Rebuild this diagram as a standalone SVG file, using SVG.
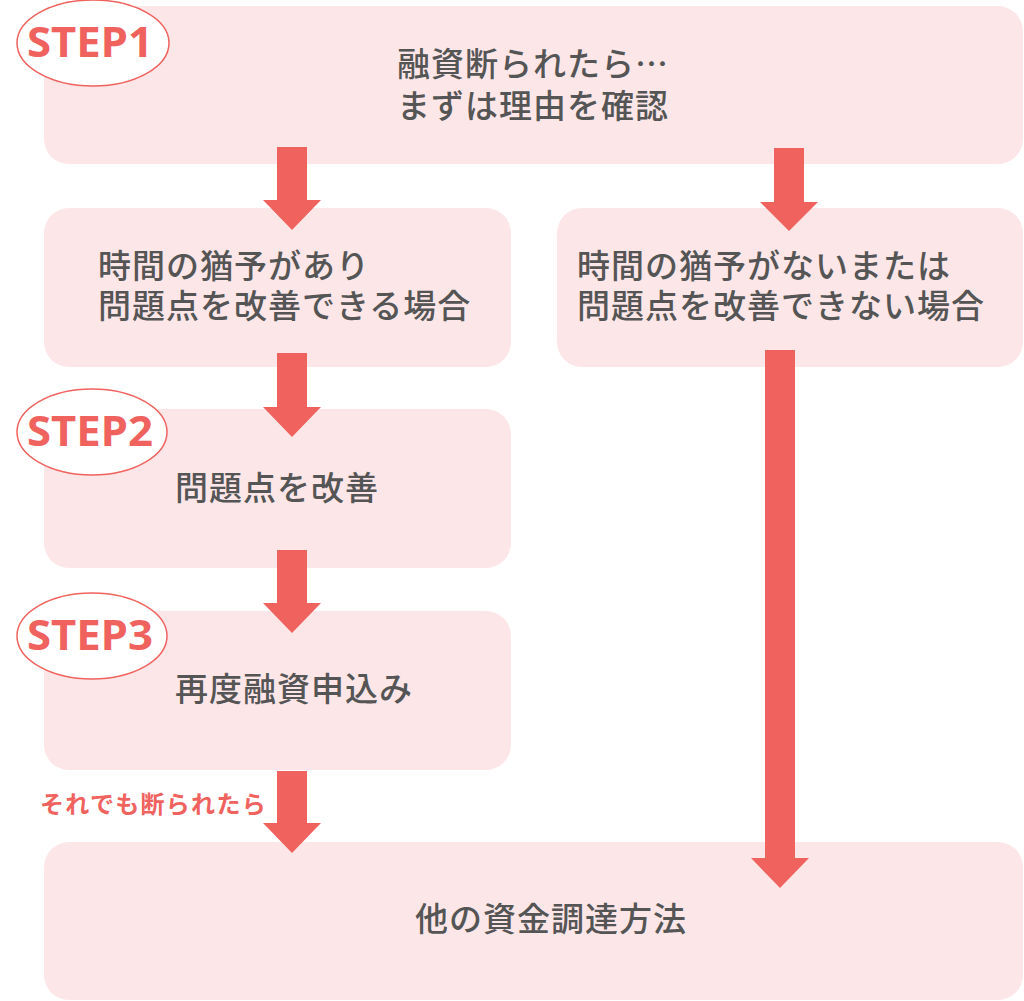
<svg xmlns="http://www.w3.org/2000/svg" width="1024" height="1001" viewBox="0 0 1024 1001">
<defs>
<style>
.box{fill:#fce6e8;}
.arr{fill:#f0625e;}
.t{font-family:"Noto Sans CJK JP","Noto Sans",sans-serif;font-size:33px;font-weight:500;fill:#555555;letter-spacing:1px;}
.step{font-family:"Noto Sans","Noto Sans CJK JP",sans-serif;font-size:42px;font-weight:700;fill:#f0625e;}
.ell{fill:#ffffff;stroke:#f0625e;stroke-width:1.5;}
.red{font-family:"Noto Sans CJK JP","Noto Sans",sans-serif;font-size:24px;font-weight:700;fill:#f0625e;letter-spacing:1.3px;}
</style>
</defs>
<rect width="1024" height="1001" fill="#ffffff"/>
<g id="node-step1">
<rect class="box" x="44" y="6" width="979" height="158" rx="25"/>
<text class="t" x="533" y="76" text-anchor="middle">融資断られたら…</text>
<text class="t" x="533" y="118" text-anchor="middle">まずは理由を確認</text>
</g>
<g id="node-yes">
<rect class="box" x="44" y="208" width="467" height="159" rx="25"/>
<text class="t" x="98" y="278">時間の猶予があり</text>
<text class="t" x="98" y="318">問題点を改善できる場合</text>
</g>
<g id="node-no">
<rect class="box" x="557" y="208" width="466" height="159" rx="25"/>
<text class="t" x="577" y="278">時間の猶予がないまたは</text>
<text class="t" x="577" y="318">問題点を改善できない場合</text>
</g>
<g id="node-step2">
<rect class="box" x="44" y="409" width="467" height="159" rx="25"/>
<text class="t" x="175" y="500">問題点を改善</text>
</g>
<g id="node-step3">
<rect class="box" x="44" y="611" width="467" height="159" rx="25"/>
<text class="t" x="175" y="701">再度融資申込み</text>
</g>
<g id="node-other">
<rect class="box" x="44" y="842" width="979" height="158" rx="25"/>
<text class="t" x="551" y="931" text-anchor="middle">他の資金調達方法</text>
</g>
<g id="connectors">
<polygon class="arr" points="277,147 307,147 307,200 321,200 292,230 263,200 277,200"/>
<polygon class="arr" points="774,148 804,148 804,202 818,202 789,231 760,202 774,202"/>
<polygon class="arr" points="277,353 307,353 307,407 321,407 292,437 263,407 277,407"/>
<polygon class="arr" points="277,550 307,550 307,603 321,603 292,633 263,603 277,603"/>
<polygon class="arr" points="277,771 307,771 307,823 321,823 292,853 263,823 277,823"/>
<polygon class="arr" points="765,350 795,350 795,858 809,858 780,888 751,858 765,858"/>
<text class="red" x="40" y="813">それでも断られたら</text>
</g>
<g id="label-step1">
<ellipse class="ell" cx="93" cy="43" rx="76" ry="43"/>
<text class="step" x="27" y="57" textLength="126" lengthAdjust="spacingAndGlyphs">STEP1</text>
</g>
<g id="label-step2">
<ellipse class="ell" cx="92" cy="432" rx="75" ry="43"/>
<text class="step" x="27" y="446" textLength="126" lengthAdjust="spacingAndGlyphs">STEP2</text>
</g>
<g id="label-step3">
<ellipse class="ell" cx="92" cy="636" rx="75" ry="43"/>
<text class="step" x="27" y="650" textLength="126" lengthAdjust="spacingAndGlyphs">STEP3</text>
</g>
</svg>
